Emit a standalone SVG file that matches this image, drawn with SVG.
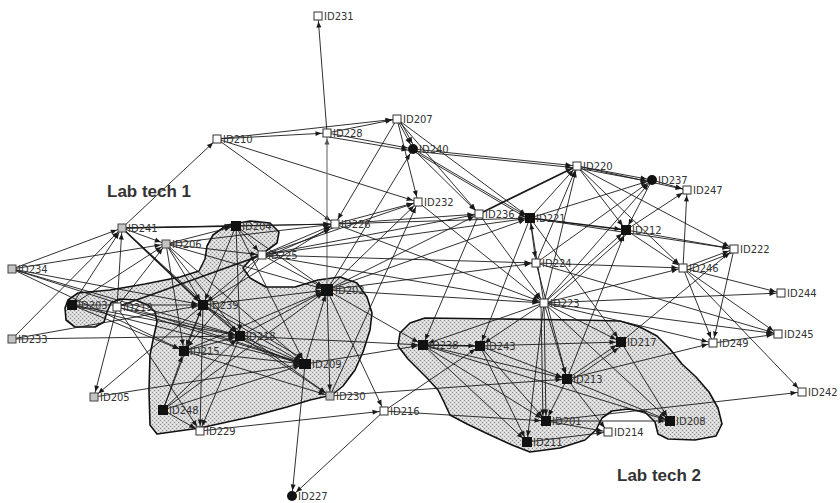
<svg xmlns="http://www.w3.org/2000/svg" width="840" height="503" viewBox="0 0 840 503">
<defs>
<pattern id="dots" width="4" height="4" patternUnits="userSpaceOnUse"><rect width="4" height="4" fill="#d8d8d8"/><rect width="1" height="1" fill="#8c8c8c"/><rect x="2" y="2" width="1" height="1" fill="#8c8c8c"/><rect x="2" y="0" width="1" height="1" fill="#f2f2f2"/><rect x="0" y="2" width="1" height="1" fill="#f2f2f2"/></pattern>
<marker id="ah" viewBox="0 0 12 8" refX="12" refY="4" markerWidth="12" markerHeight="8" markerUnits="userSpaceOnUse" orient="auto"><path d="M0.5,1.5 L6.5,4 L0.5,6.5 z" fill="#1a1a1a"/></marker>
<marker id="ahg" viewBox="0 0 12 8" refX="12" refY="4" markerWidth="12" markerHeight="8" markerUnits="userSpaceOnUse" orient="auto"><path d="M0.5,1.5 L6.5,4 L0.5,6.5 z" fill="#555"/></marker>
</defs>
<style>
.hull{fill:url(#dots);stroke:#111;stroke-width:1.6;stroke-linejoin:round}
#edges line{stroke:#1a1a1a;stroke-width:0.9;marker-end:url(#ah)}
#edges line.k{stroke-width:1.7}
#edges line.gr{stroke:#777;stroke-width:1.2;marker-end:url(#ahg)}
.w{fill:#fff;stroke:#333;stroke-width:1}
.g{fill:#c4c4c4;stroke:#444;stroke-width:1}
.b{fill:#111}
.t{font-family:"DejaVu Sans",Verdana,sans-serif;font-size:10px;fill:#333}
.lab{font-family:"Liberation Sans",Arial,sans-serif;font-size:17px;font-weight:bold;fill:#333}
</style>
<rect width="840" height="503" fill="#fff"/>
<g id="hulls">
<path class="hull" d="M68,300 L78,293 L110,290 L145,284 L180,277 L199,271 L205,259 L207,246 L213,235 L227,225 L250,221 L270,223 L279,232 L277,243 L266,251 L251,259 L243,268 L250,278 L266,287 L295,287 L318,280 L340,277 L357,283 L367,297 L372,313 L370,330 L363,352 L355,370 L343,386 L332,395 L310,400 L287,407 L250,417 L200,428 L157,434 L150,425 L149,390 L150,355 L153,340 L157,322 L155,312 L148,305 L135,300 L120,299 L111,303 L107,312 L104,322 L95,327 L75,327 L66,320 L65,308 Z"/>
<path class="hull" d="M425,318 L500,319 L580,320 L620,321 L640,327 L657,336 L670,349 L682,364 L696,377 L709,392 L718,408 L722,424 L716,436 L695,440 L668,439 L658,434 L655,422 L645,412 L628,409 L612,411 L602,418 L596,430 L585,440 L560,448 L530,452 L512,445 L488,434 L467,424 L450,415 L444,402 L438,390 L427,378 L408,359 L398,346 L400,333 L410,323 Z"/>
</g>
<g id="edges">
<line x1="327" y1="133" x2="318" y2="16"/>
<line x1="122" y1="228" x2="217" y2="139"/>
<line x1="217" y1="139" x2="327" y2="133"/>
<line x1="217" y1="139" x2="397" y2="119"/>
<line x1="217" y1="139" x2="335" y2="224"/>
<line x1="217" y1="139" x2="418" y2="202"/>
<line x1="327" y1="133" x2="397" y2="119"/>
<line x1="327" y1="133" x2="413" y2="149"/>
<line x1="329" y1="137" x2="413" y2="151"/>
<line class="gr" x1="327" y1="290" x2="327" y2="133"/>
<line x1="397" y1="119" x2="413" y2="149"/>
<line x1="399" y1="119" x2="415" y2="148"/>
<line x1="397" y1="119" x2="418" y2="202"/>
<line x1="397" y1="119" x2="335" y2="224"/>
<line x1="397" y1="119" x2="530" y2="218"/>
<line x1="397" y1="119" x2="479" y2="214"/>
<line x1="413" y1="149" x2="577" y2="166"/>
<line x1="413" y1="151" x2="577" y2="168"/>
<line x1="413" y1="149" x2="530" y2="218"/>
<line x1="415" y1="152" x2="530" y2="220"/>
<line x1="413" y1="149" x2="479" y2="214"/>
<line x1="327" y1="290" x2="413" y2="149"/>
<line x1="335" y1="224" x2="418" y2="202"/>
<line x1="418" y1="202" x2="544" y2="303"/>
<line x1="262" y1="255" x2="418" y2="202"/>
<line x1="335" y1="224" x2="479" y2="214"/>
<line x1="262" y1="255" x2="479" y2="214"/>
<line x1="335" y1="224" x2="530" y2="218"/>
<line x1="262" y1="255" x2="530" y2="218"/>
<line class="k" x1="479" y1="214" x2="577" y2="166"/>
<line x1="530" y1="218" x2="577" y2="166"/>
<line x1="536" y1="263" x2="577" y2="166"/>
<line x1="544" y1="303" x2="577" y2="166"/>
<line x1="577" y1="166" x2="652" y2="180"/>
<line x1="577" y1="168" x2="652" y2="182"/>
<line x1="577" y1="166" x2="626" y2="230"/>
<line x1="577" y1="166" x2="683" y2="268"/>
<line x1="577" y1="166" x2="734" y2="249"/>
<line x1="577" y1="166" x2="687" y2="190"/>
<line x1="530" y1="218" x2="652" y2="180"/>
<line class="k" x1="530" y1="218" x2="626" y2="230"/>
<line x1="530" y1="218" x2="536" y2="263"/>
<line x1="530" y1="218" x2="734" y2="249"/>
<line x1="530" y1="218" x2="621" y2="342"/>
<line x1="544" y1="303" x2="652" y2="180"/>
<line x1="652" y1="180" x2="626" y2="230"/>
<line x1="652" y1="180" x2="687" y2="190"/>
<line x1="536" y1="263" x2="652" y2="180"/>
<line x1="626" y1="230" x2="683" y2="268"/>
<line x1="626" y1="230" x2="734" y2="249"/>
<line x1="626" y1="230" x2="687" y2="190"/>
<line x1="544" y1="303" x2="626" y2="230"/>
<line x1="547" y1="305" x2="628" y2="233"/>
<line x1="567" y1="379" x2="626" y2="230"/>
<line x1="683" y1="268" x2="687" y2="190"/>
<line x1="683" y1="268" x2="734" y2="249"/>
<line x1="685" y1="271" x2="734" y2="252"/>
<line x1="536" y1="263" x2="683" y2="268"/>
<line x1="544" y1="303" x2="683" y2="268"/>
<line x1="683" y1="268" x2="781" y2="293"/>
<line x1="683" y1="268" x2="778" y2="334"/>
<line x1="683" y1="268" x2="713" y2="343"/>
<line x1="683" y1="268" x2="802" y2="392"/>
<line x1="621" y1="342" x2="734" y2="249"/>
<line x1="734" y1="249" x2="713" y2="343"/>
<line x1="544" y1="303" x2="781" y2="293"/>
<line x1="544" y1="303" x2="778" y2="334"/>
<line x1="536" y1="263" x2="778" y2="334"/>
<line x1="544" y1="303" x2="713" y2="343"/>
<line x1="567" y1="379" x2="713" y2="343"/>
<line x1="713" y1="343" x2="778" y2="334"/>
<line x1="546" y1="421" x2="802" y2="392"/>
<line x1="544" y1="303" x2="423" y2="345"/>
<line x1="544" y1="303" x2="480" y2="346"/>
<line x1="544" y1="303" x2="567" y2="379"/>
<line x1="544" y1="303" x2="546" y2="421"/>
<line x1="541" y1="304" x2="543" y2="421"/>
<line x1="544" y1="303" x2="527" y2="442"/>
<line x1="544" y1="303" x2="621" y2="342"/>
<line x1="544" y1="303" x2="670" y2="421"/>
<line x1="544" y1="303" x2="530" y2="218"/>
<line x1="479" y1="214" x2="544" y2="303"/>
<line x1="262" y1="255" x2="544" y2="303"/>
<line x1="327" y1="290" x2="544" y2="303"/>
<line x1="335" y1="224" x2="544" y2="303"/>
<line x1="262" y1="255" x2="536" y2="263"/>
<line x1="327" y1="290" x2="536" y2="263"/>
<line x1="530" y1="218" x2="480" y2="346"/>
<line x1="536" y1="263" x2="567" y2="379"/>
<line x1="479" y1="214" x2="423" y2="345"/>
<line class="k" x1="423" y1="345" x2="480" y2="346"/>
<line x1="423" y1="345" x2="527" y2="442"/>
<line x1="423" y1="345" x2="546" y2="421"/>
<line x1="423" y1="345" x2="567" y2="379"/>
<line x1="423" y1="345" x2="670" y2="421"/>
<line x1="480" y1="346" x2="527" y2="442"/>
<line x1="480" y1="346" x2="546" y2="421"/>
<line x1="480" y1="346" x2="567" y2="379"/>
<line x1="480" y1="346" x2="621" y2="342"/>
<line x1="567" y1="379" x2="546" y2="421"/>
<line x1="567" y1="379" x2="621" y2="342"/>
<line x1="569" y1="382" x2="623" y2="345"/>
<line x1="567" y1="379" x2="670" y2="421"/>
<line x1="567" y1="379" x2="608" y2="432"/>
<line x1="621" y1="342" x2="670" y2="421"/>
<line x1="546" y1="421" x2="608" y2="432"/>
<line x1="546" y1="421" x2="670" y2="421"/>
<line x1="527" y1="442" x2="608" y2="432"/>
<line x1="384" y1="411" x2="480" y2="346"/>
<line x1="384" y1="411" x2="546" y2="421"/>
<line x1="384" y1="411" x2="292" y2="496"/>
<line x1="305" y1="364" x2="292" y2="496"/>
<line x1="200" y1="431" x2="384" y2="411"/>
<line x1="327" y1="290" x2="384" y2="411"/>
<line x1="330" y1="396" x2="567" y2="379"/>
<line x1="330" y1="396" x2="418" y2="202"/>
<line x1="12" y1="269" x2="122" y2="228"/>
<line x1="12" y1="269" x2="166" y2="244"/>
<line x1="12" y1="269" x2="203" y2="305"/>
<line x1="12" y1="269" x2="240" y2="336"/>
<line x1="12" y1="269" x2="184" y2="351"/>
<line x1="12" y1="269" x2="305" y2="364"/>
<line x1="12" y1="339" x2="122" y2="228"/>
<line x1="12" y1="339" x2="203" y2="305"/>
<line x1="12" y1="339" x2="240" y2="336"/>
<line x1="72" y1="305" x2="122" y2="228"/>
<line x1="72" y1="305" x2="166" y2="244"/>
<line x1="72" y1="305" x2="203" y2="305"/>
<line x1="72" y1="305" x2="240" y2="336"/>
<line x1="72" y1="305" x2="184" y2="351"/>
<line x1="72" y1="305" x2="305" y2="364"/>
<line x1="117" y1="307" x2="122" y2="228"/>
<line x1="117" y1="307" x2="166" y2="244"/>
<line x1="117" y1="307" x2="94" y2="397"/>
<line class="k" x1="117" y1="307" x2="262" y2="255"/>
<line x1="117" y1="307" x2="240" y2="336"/>
<line x1="117" y1="307" x2="305" y2="364"/>
<line x1="117" y1="307" x2="200" y2="431"/>
<line x1="203" y1="305" x2="94" y2="397"/>
<line x1="94" y1="397" x2="305" y2="364"/>
<line x1="163" y1="410" x2="184" y2="351"/>
<line x1="163" y1="410" x2="203" y2="305"/>
<line x1="163" y1="410" x2="240" y2="336"/>
<line x1="163" y1="410" x2="200" y2="431"/>
<line x1="163" y1="410" x2="305" y2="364"/>
<line x1="163" y1="410" x2="327" y2="290"/>
<line class="k" x1="122" y1="228" x2="236" y2="226"/>
<line x1="122" y1="228" x2="335" y2="224"/>
<line class="k" x1="122" y1="228" x2="203" y2="305"/>
<line x1="122" y1="228" x2="240" y2="336"/>
<line x1="122" y1="228" x2="166" y2="244"/>
<line x1="166" y1="244" x2="236" y2="226"/>
<line x1="166" y1="244" x2="335" y2="224"/>
<line x1="166" y1="244" x2="262" y2="255"/>
<line x1="166" y1="244" x2="203" y2="305"/>
<line x1="166" y1="244" x2="240" y2="336"/>
<line x1="166" y1="244" x2="184" y2="351"/>
<line x1="166" y1="244" x2="305" y2="364"/>
<line x1="166" y1="244" x2="327" y2="290"/>
<line x1="236" y1="226" x2="335" y2="224"/>
<line x1="236" y1="226" x2="262" y2="255"/>
<line x1="236" y1="226" x2="203" y2="305"/>
<line x1="236" y1="226" x2="240" y2="336"/>
<line x1="236" y1="226" x2="305" y2="364"/>
<line x1="236" y1="226" x2="327" y2="290"/>
<line x1="262" y1="255" x2="335" y2="224"/>
<line x1="264" y1="258" x2="335" y2="227"/>
<line x1="262" y1="255" x2="203" y2="305"/>
<line x1="262" y1="255" x2="184" y2="351"/>
<line x1="262" y1="255" x2="327" y2="290"/>
<line x1="203" y1="305" x2="240" y2="336"/>
<line x1="203" y1="305" x2="184" y2="351"/>
<line x1="203" y1="305" x2="305" y2="364"/>
<line x1="205" y1="302" x2="307" y2="361"/>
<line x1="203" y1="305" x2="327" y2="290"/>
<line x1="203" y1="305" x2="335" y2="224"/>
<line x1="203" y1="305" x2="330" y2="396"/>
<line x1="240" y1="336" x2="305" y2="364"/>
<line x1="240" y1="339" x2="305" y2="367"/>
<line x1="240" y1="336" x2="423" y2="345"/>
<line x1="240" y1="336" x2="327" y2="290"/>
<line x1="240" y1="336" x2="330" y2="396"/>
<line x1="184" y1="351" x2="240" y2="336"/>
<line x1="184" y1="351" x2="305" y2="364"/>
<line x1="184" y1="351" x2="327" y2="290"/>
<line x1="184" y1="351" x2="330" y2="396"/>
<line x1="305" y1="364" x2="327" y2="290"/>
<line x1="305" y1="364" x2="423" y2="345"/>
<line x1="327" y1="290" x2="423" y2="345"/>
<line x1="327" y1="290" x2="330" y2="396"/>
<line x1="327" y1="290" x2="418" y2="202"/>
<line x1="327" y1="290" x2="530" y2="218"/>
<line x1="327" y1="290" x2="479" y2="214"/>
<line x1="203" y1="305" x2="200" y2="431"/>
<line x1="240" y1="336" x2="200" y2="431"/>
</g>
<g id="nodes">
<g id="n231"><rect class="w" x="314" y="12" width="8" height="8"/><text class="t" x="324" y="20">ID231</text></g>
<g id="n210"><rect class="w" x="213" y="135" width="8" height="8"/><text class="t" x="223" y="143">ID210</text></g>
<g id="n228"><rect class="w" x="323" y="129" width="8" height="8"/><text class="t" x="333" y="137">ID228</text></g>
<g id="n207"><rect class="w" x="393" y="115" width="8" height="8"/><text class="t" x="403" y="123">ID207</text></g>
<g id="n240"><circle class="b" cx="413" cy="149" r="5"/><text class="t" x="419" y="153">ID240</text></g>
<g id="n220"><rect class="w" x="573" y="162" width="8" height="8"/><text class="t" x="583" y="170">ID220</text></g>
<g id="n237"><circle class="b" cx="652" cy="180" r="5"/><text class="t" x="658" y="184">ID237</text></g>
<g id="n247"><rect class="w" x="683" y="186" width="8" height="8"/><text class="t" x="693" y="194">ID247</text></g>
<g id="n232"><rect class="w" x="414" y="198" width="8" height="8"/><text class="t" x="424" y="206">ID232</text></g>
<g id="n236"><rect class="w" x="475" y="210" width="8" height="8"/><text class="t" x="485" y="218">ID236</text></g>
<g id="n221"><rect class="b" x="525" y="213" width="10" height="10"/><text class="t" x="536" y="222">ID221</text></g>
<g id="n212"><rect class="b" x="621" y="225" width="10" height="10"/><text class="t" x="632" y="234">ID212</text></g>
<g id="n222"><rect class="w" x="730" y="245" width="8" height="8"/><text class="t" x="740" y="253">ID222</text></g>
<g id="n241"><rect class="g" x="118" y="224" width="8" height="8"/><text class="t" x="128" y="232">ID241</text></g>
<g id="n206"><rect class="g" x="162" y="240" width="8" height="8"/><text class="t" x="172" y="248">ID206</text></g>
<g id="n204"><rect class="b" x="231" y="221" width="10" height="10"/><text class="t" x="242" y="230">ID204</text></g>
<g id="n226"><rect class="w" x="331" y="220" width="8" height="8"/><text class="t" x="341" y="228">ID226</text></g>
<g id="n225"><rect class="w" x="258" y="251" width="8" height="8"/><text class="t" x="268" y="259">ID225</text></g>
<g id="n224"><rect class="w" x="532" y="259" width="8" height="8"/><text class="t" x="542" y="267">ID224</text></g>
<g id="n246"><rect class="w" x="679" y="264" width="8" height="8"/><text class="t" x="689" y="272">ID246</text></g>
<g id="n234"><rect class="g" x="8" y="265" width="8" height="8"/><text class="t" x="18" y="273">ID234</text></g>
<g id="n202"><rect class="b" x="321" y="284" width="12" height="12"/><text class="t" x="335" y="294">ID202</text></g>
<g id="n244"><rect class="w" x="777" y="289" width="8" height="8"/><text class="t" x="787" y="297">ID244</text></g>
<g id="n203"><rect class="b" x="67" y="300" width="10" height="10"/><text class="t" x="78" y="309">ID203</text></g>
<g id="n219"><rect class="w" x="113" y="303" width="8" height="8"/><text class="t" x="123" y="311">ID219</text></g>
<g id="n239"><rect class="b" x="198" y="300" width="10" height="10"/><text class="t" x="209" y="309">ID239</text></g>
<g id="n223"><rect class="w" x="540" y="299" width="8" height="8"/><text class="t" x="550" y="307">ID223</text></g>
<g id="n233"><rect class="g" x="8" y="335" width="8" height="8"/><text class="t" x="18" y="343">ID233</text></g>
<g id="n218"><rect class="b" x="235" y="331" width="10" height="10"/><text class="t" x="246" y="340">ID218</text></g>
<g id="n245"><rect class="w" x="774" y="330" width="8" height="8"/><text class="t" x="784" y="338">ID245</text></g>
<g id="n215"><rect class="b" x="179" y="346" width="10" height="10"/><text class="t" x="190" y="355">ID215</text></g>
<g id="n238"><rect class="b" x="418" y="340" width="10" height="10"/><text class="t" x="429" y="349">ID238</text></g>
<g id="n243"><rect class="b" x="475" y="341" width="10" height="10"/><text class="t" x="486" y="350">ID243</text></g>
<g id="n217"><rect class="b" x="616" y="337" width="10" height="10"/><text class="t" x="627" y="346">ID217</text></g>
<g id="n249"><rect class="w" x="709" y="339" width="8" height="8"/><text class="t" x="719" y="347">ID249</text></g>
<g id="n209"><rect class="b" x="299" y="359" width="12" height="10"/><text class="t" x="312" y="368">ID209</text></g>
<g id="n213"><rect class="b" x="562" y="374" width="10" height="10"/><text class="t" x="573" y="383">ID213</text></g>
<g id="n205"><rect class="g" x="90" y="393" width="8" height="8"/><text class="t" x="100" y="401">ID205</text></g>
<g id="n230"><rect class="g" x="326" y="392" width="8" height="8"/><text class="t" x="336" y="400">ID230</text></g>
<g id="n242"><rect class="w" x="798" y="388" width="8" height="8"/><text class="t" x="808" y="396">ID242</text></g>
<g id="n248"><rect class="b" x="158" y="405" width="10" height="10"/><text class="t" x="169" y="414">ID248</text></g>
<g id="n216"><rect class="w" x="380" y="407" width="8" height="8"/><text class="t" x="390" y="415">ID216</text></g>
<g id="n229"><rect class="w" x="196" y="427" width="8" height="8"/><text class="t" x="206" y="435">ID229</text></g>
<g id="n201"><rect class="b" x="541" y="416" width="10" height="10"/><text class="t" x="552" y="425">ID201</text></g>
<g id="n214"><rect class="w" x="604" y="428" width="8" height="8"/><text class="t" x="614" y="436">ID214</text></g>
<g id="n208"><rect class="b" x="665" y="416" width="10" height="10"/><text class="t" x="676" y="425">ID208</text></g>
<g id="n211"><rect class="b" x="522" y="437" width="10" height="10"/><text class="t" x="533" y="446">ID211</text></g>
<g id="n227"><circle class="b" cx="292" cy="496" r="5"/><text class="t" x="298" y="500">ID227</text></g>
</g>
<g id="labels">
<text class="lab" x="107" y="197">Lab tech 1</text>
<text class="lab" x="617" y="481">Lab tech 2</text>
</g>
</svg>
